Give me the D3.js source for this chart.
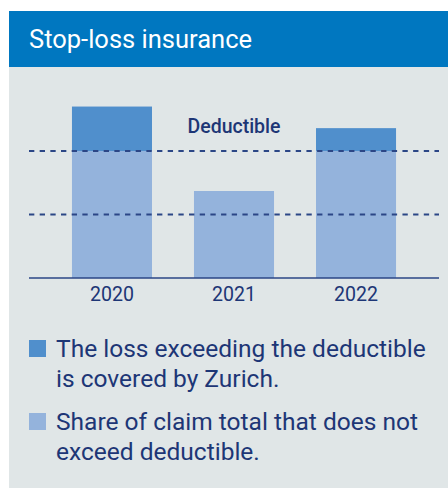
<!DOCTYPE html>
<html>
<head>
<meta charset="utf-8">
<script src="https://cdn.jsdelivr.net/npm/d3@7"></script>
<style>
  html, body { margin: 0; padding: 0; background: #ffffff; }
  svg { display: block; }
  text { font-family: Roboto, "Liberation Sans", Arial, sans-serif; }
</style>
</head>
<body>
<svg id="chart" width="448" height="488"></svg>
<script>
// ---- data ----
const title = "Stop-loss insurance";
const years = ["2020", "2021", "2022"];
const withinDeductible = [100, 68.5, 100];   // share not exceeding deductible
const exceedingDeductible = [35, 0, 18];     // loss exceeding deductible (covered by Zurich)
const guideLines = [50, 100];                // dashed reference lines (100 = deductible)
const deductibleLabel = "Deductible";
const legendItems = [
  ["The loss exceeding the deductible", "is covered by Zurich."],
  ["Share of claim total that does not", "exceed deductible."]
];

// ---- style ----
const C = {
  header: "#0077c0",
  panel: "#e0e6e7",
  dark: "#508fcc",
  light: "#94b3dc",
  navy: "#1d3676",
  line: "#2b4686"
};
const FONT = "Roboto, 'Liberation Sans', Arial, sans-serif";

const svg = d3.select("#chart");

function fit(sel, target) {
  const w = sel.node().getComputedTextLength();
  const fs = parseFloat(sel.attr("font-size"));
  sel.attr("font-size", (fs * target / w).toFixed(2));
  return fs * target / w;
}

// panel + header
svg.append("rect").attr("x", 9).attr("y", 11).attr("width", 439).attr("height", 477).attr("fill", C.panel);
svg.append("rect").attr("x", 9).attr("y", 11).attr("width", 439).attr("height", 56).attr("fill", C.header);
const t = svg.append("text").attr("x", 29).attr("y", 48).attr("fill", "#ffffff")
  .attr("font-size", 20).text(title);
fit(t, 223);

// scales
const x = d3.scaleBand().domain(years).range([29, 439]).paddingInner(0.344).paddingOuter(0.352);
const y = d3.scaleLinear().domain([0, 140]).range([278, 278 - 140 * 1.27]);

// stacked bars
const rows = years.map((yr, i) => ({ year: yr, within: withinDeductible[i], exceed: exceedingDeductible[i] }));
const stack = d3.stack().keys(["within", "exceed"])(rows);
const colors = { within: C.light, exceed: C.dark };

svg.append("g").selectAll("g").data(stack).join("g")
  .attr("fill", d => colors[d.key])
  .selectAll("rect").data(d => d).join("rect")
  .attr("x", d => x(d.data.year))
  .attr("width", x.bandwidth())
  .attr("y", d => y(d[1]))
  .attr("height", d => y(d[0]) - y(d[1]));

// dashed guide lines
svg.append("g").selectAll("line").data(guideLines).join("line")
  .attr("x1", 29).attr("x2", 439)
  .attr("y1", d => y(d)).attr("y2", d => y(d))
  .attr("stroke", C.line).attr("stroke-width", 2)
  .attr("stroke-dasharray", "5.33,5.34");

// deductible label
const dl = svg.append("text").attr("x", (29 + 439) / 2).attr("y", 133)
  .attr("text-anchor", "middle").attr("font-weight", 500).attr("fill", C.navy)
  .attr("font-size", 16).text(deductibleLabel);
fit(dl, 93);

// x axis
const xAxis = svg.append("g").attr("transform", "translate(0,278)")
  .call(d3.axisBottom(x).tickSize(0).tickPadding(0));
xAxis.select(".domain").attr("stroke", C.line).attr("stroke-width", 1.5).attr("d", "M29,0H439");
xAxis.selectAll(".tick text").attr("fill", C.navy).attr("font-family", FONT)
  .attr("dy", null).attr("y", 22.5).attr("font-size", 18);
const ts = xAxis.select(".tick text");
const yfs = 18 * 44 / ts.node().getComputedTextLength();
xAxis.selectAll(".tick text").attr("font-size", yfs.toFixed(2));

// legend
const legendTop = [340, 413];
const lg = svg.append("g");
let legendFs = null;
legendItems.forEach((lines, i) => {
  const g = lg.append("g");
  g.append("rect").attr("x", 29).attr("y", legendTop[i]).attr("width", 17).attr("height", 17)
    .attr("fill", i === 0 ? C.dark : C.light);
  const tx = g.append("text").attr("fill", C.navy).attr("font-size", 20);
  lines.forEach((ln, j) => {
    tx.append("tspan").attr("x", 56).attr("y", legendTop[i] + 17 + j * 29.5).text(ln);
  });
  if (i === 0) {
    const w = tx.select("tspan").node().getComputedTextLength();
    legendFs = 20 * 370 / w;
  }
  tx.attr("font-size", legendFs.toFixed(2));
});
</script>
</body>
</html>
